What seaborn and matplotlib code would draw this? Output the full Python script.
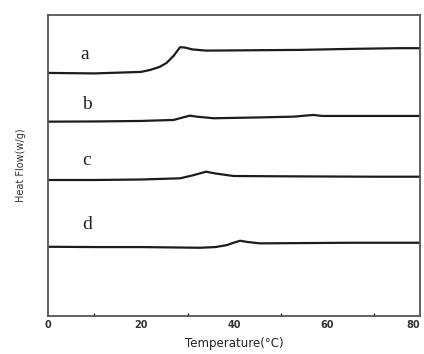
import matplotlib
matplotlib.use("Agg")
import matplotlib.pyplot as plt
import seaborn as sns
import pandas as pd
from matplotlib.ticker import MultipleLocator

# DSC curves (arbitrary heat-flow units, offset per sample)
temp_a = [0, 10, 20, 22, 24, 25.5, 27, 28.4, 29.5, 31, 34, 40, 54, 65, 75, 80]
flow_a = [243, 242.5, 244, 246, 249, 253, 260, 268.7, 268.3, 266.5, 265.3, 265.5, 266, 267, 267.7, 267.7]

temp_b = [0, 10, 20, 27, 29, 30.5, 32, 35.6, 45, 52.8, 57, 59, 70, 80]
flow_b = [194.3, 194.5, 195, 196, 198.5, 200.3, 199.3, 197.7, 198.5, 199.3, 201, 200, 200, 200]

temp_c = [0, 10, 20, 28.4, 31, 34, 36, 39.9, 50, 60, 70, 80]
flow_c = [136, 136, 136.5, 137.7, 140.5, 144.3, 142.5, 140, 139.7, 139.5, 139.3, 139.3]

temp_d = [0, 10, 20, 32.7, 36, 38.5, 40, 41.3, 43, 45.6, 55, 65, 75, 80]
flow_d = [69.3, 69, 69, 68.3, 69, 71, 73.5, 75.3, 74, 72.7, 73, 73.3, 73.3, 73.3]

curve_labels = ["a", "b", "c", "d"]
label_pos_x = [7.8, 8.4, 8.4, 8.4]
label_pos_y = [261, 211, 155, 92]

x_ticks = [0, 20, 40, 60, 80]

frames = []
for name, t, f in zip(curve_labels, [temp_a, temp_b, temp_c, temp_d],
                      [flow_a, flow_b, flow_c, flow_d]):
    frames.append(pd.DataFrame({"temp": t, "flow": f, "sample": name}))
df = pd.concat(frames, ignore_index=True)

sns.set_theme(style="white")
plt.rcParams["font.family"] = ["DejaVu Sans"]

fig = plt.figure(figsize=(4.24, 3.54), dpi=100)
ax = fig.add_axes([0.113, 0.107, 0.878, 0.851])

sns.lineplot(data=df, x="temp", y="flow", hue="sample", units="sample",
             estimator=None, sort=False,
             palette=["#1c1c1c"] * 4, linewidth=1.6, legend=False, ax=ax)

for lab, lx, ly in zip(curve_labels, label_pos_x, label_pos_y):
    ax.text(lx, ly, lab, fontsize=14, family="Liberation Serif",
            ha="center", va="center", color="#222222")

ax.set_xlim(0, 80)
ax.set_ylim(0, 301)
ax.set_xticks(x_ticks)
ax.set_xticklabels([str(v) for v in x_ticks], fontweight="bold")
ax.xaxis.set_minor_locator(MultipleLocator(10))
ax.set_yticks([])
ax.tick_params(axis="x", which="major", direction="in", length=4, width=1,
               labelsize=7, colors="#333333", pad=3)
ax.tick_params(axis="x", which="minor", direction="in", length=2, width=1,
               bottom=True)
ax.get_xticklabels()[-1].set_horizontalalignment("right")
ax.get_xticklabels()[-1].set_x(79.6)
for sp in ax.spines.values():
    sp.set_color("#555555")
    sp.set_linewidth(1.3)

ax.set_xlabel("Temperature(°C)", fontsize=8.5, color="#222222", labelpad=5)
ax.set_ylabel("Heat Flow(w/g)", fontsize=7, color="#333333", labelpad=16)

fig.savefig("out.png", dpi=100)
